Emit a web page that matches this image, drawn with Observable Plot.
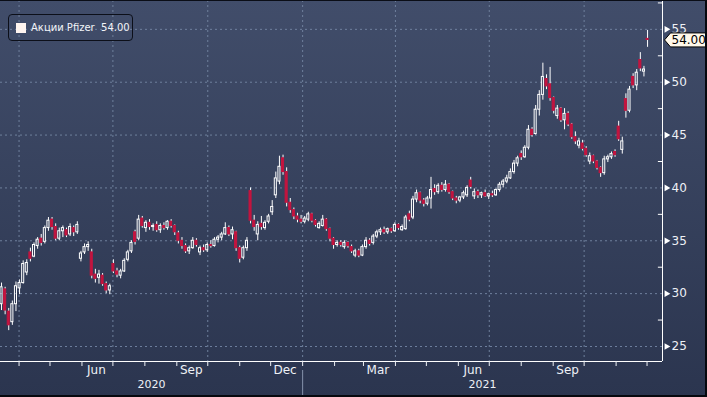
<!DOCTYPE html>
<html>
<head>
<meta charset="utf-8">
<script src="https://cdn.jsdelivr.net/npm/d3@7"></script>
<script src="https://cdn.jsdelivr.net/npm/@observablehq/plot@0.6"></script>
<style>
html,body{margin:0;padding:0;background:#2c3650;}
#wrap{position:relative;width:707px;height:397px;overflow:hidden;
  background:linear-gradient(to bottom,#414d6a 0%,#2b354f 100%);
  font-family:"DejaVu Sans",sans-serif;}
#wrap svg{position:absolute;left:0;top:0;}
#legend{position:absolute;left:8px;top:14px;width:125px;height:27px;box-sizing:border-box;
  border:1px solid #0c0f19;border-radius:4px;display:flex;align-items:center;
  color:#f2f4f8;font-size:10px;white-space:pre;}
#legend .sw{display:inline-block;width:10px;height:10px;background:#fff5f0;margin-left:7px;margin-right:5px;}
#frame{position:absolute;left:0;top:0;right:0;bottom:0;box-sizing:border-box;
  border-top:1px solid #0a0d16;border-right:2px solid #06080e;border-bottom:2px solid #06080e;pointer-events:none;}
</style>
</head>
<body>
<div id="wrap"><div id="frame"></div></div>
<script>
// ---- data ----
const seriesName = "Акции Pfizer";
const openV = [29.0,30.4,28.3,27.3,29.0,30.5,31.0,32.0,33.9,33.5,
 34.5,35.2,34.9,36.2,37.0,36.3,35.2,35.9,36.0,35.6,
 36.2,35.8,33.3,33.9,34.4,33.9,31.8,31.5,31.7,30.9,
 30.3,32.8,32.1,31.7,32.1,33.2,34.0,35.8,35.2,37.1,
 36.2,36.7,36.3,36.5,36.0,36.4,36.2,36.8,36.4,35.7,
 35.0,34.5,34.0,34.3,35.0,33.9,34.3,34.1,34.6,34.5,
 35.1,35.3,35.6,36.2,35.6,35.8,34.3,33.4,34.3,39.7,
 36.9,35.6,36.6,36.2,36.8,37.7,39.3,40.6,42.8,41.5,
 38.6,37.9,37.3,37.0,36.8,37.0,37.5,36.9,36.2,36.4,
 37.0,36.1,35.2,34.6,34.8,34.4,34.8,34.4,33.6,34.0,
 33.6,34.4,35.0,34.8,35.4,35.8,36.0,35.8,36.1,35.9,
 36.5,36.0,36.1,37.5,37.2,38.9,39.5,38.8,38.5,39.0,
 39.9,39.6,40.2,39.8,40.3,39.6,39.0,38.8,39.1,39.3,
 40.7,39.2,39.6,39.3,39.5,39.2,39.4,39.3,39.8,40.3,
 40.6,40.9,41.5,42.3,43.2,42.9,43.8,45.5,45.1,47.4,
 48.8,50.3,49.8,48.5,46.8,47.5,46.4,47.0,46.0,44.8,
 44.0,44.2,43.7,42.5,43.0,42.5,41.9,41.4,42.7,42.9,
 43.4,45.8,43.6,48.4,47.3,50.5,49.7,52.1,51.0,54.1];
const highV = [31.0,30.6,28.6,29.3,31.1,31.3,33.1,33.2,34.3,34.8,
 35.3,35.6,36.4,37.2,37.2,36.6,36.2,36.4,36.2,36.6,
 36.4,36.8,34.0,34.7,34.9,34.2,32.3,32.2,31.9,31.1,
 30.9,33.2,32.4,32.3,33.3,34.1,35.0,36.0,37.4,37.3,
 36.9,37.0,36.6,36.8,36.6,36.7,36.9,37.0,36.5,35.9,
 35.3,34.7,34.5,35.3,35.2,34.5,34.6,34.8,35.0,35.3,
 35.5,35.8,36.7,36.4,36.3,35.9,34.5,34.5,35.3,40.0,
 37.4,36.8,37.3,36.9,37.5,38.8,41.5,43.0,43.1,41.9,
 39.0,38.1,37.6,37.4,37.3,37.7,37.6,37.0,36.8,37.4,
 37.1,36.2,35.3,35.0,35.0,35.0,34.9,34.6,34.2,34.2,
 34.6,35.3,35.2,35.6,36.0,36.2,36.3,36.2,36.2,36.7,
 36.6,36.5,37.4,37.8,39.2,39.8,39.6,39.0,39.2,41.0,
 40.3,40.4,40.5,40.7,40.4,39.7,39.2,39.2,39.7,40.2,
 41.0,39.9,39.8,39.6,39.8,39.5,39.7,39.9,40.5,40.8,
 41.2,41.8,42.6,43.0,43.5,44.0,45.9,45.7,47.8,49.2,
 51.8,50.7,51.4,48.6,47.8,47.6,47.5,47.2,46.1,45.3,
 44.7,44.5,43.9,43.3,43.1,42.6,42.0,43.0,43.1,43.4,
 43.6,46.3,44.8,48.9,49.6,50.8,51.2,52.8,51.5,54.9];
const lowV = [28.4,28.0,26.5,27.0,28.3,29.9,30.9,31.7,33.0,33.4,
 34.2,34.5,34.7,35.9,36.0,35.0,35.0,35.3,35.3,35.4,
 35.4,35.6,33.0,33.7,34.0,31.4,31.0,30.9,30.7,30.0,
 29.9,31.9,31.5,31.4,32.0,33.0,33.8,34.6,35.0,36.2,
 35.8,36.0,35.9,35.8,35.7,36.0,36.0,36.2,35.5,34.7,
 34.2,33.8,33.7,34.2,34.4,33.6,33.9,33.9,34.3,34.4,
 34.8,35.0,35.5,35.4,35.1,34.0,32.9,33.2,34.0,36.6,
 35.9,35.0,36.0,36.0,36.6,37.4,39.0,40.3,41.2,38.2,
 37.6,37.0,36.7,36.6,36.6,36.8,36.7,36.3,36.1,36.3,
 35.9,34.9,34.2,34.4,34.4,34.2,34.3,33.8,33.4,33.4,
 33.5,34.2,34.5,34.6,35.2,35.5,35.6,35.6,35.7,35.8,
 36.0,35.9,36.0,36.8,37.0,38.6,38.5,38.2,38.3,38.0,
 39.3,39.4,39.6,39.6,39.4,38.8,38.5,38.6,38.9,39.1,
 39.9,38.9,39.0,39.0,39.1,38.9,39.1,39.2,39.6,40.0,
 40.4,40.8,41.3,42.0,42.6,42.8,43.6,44.8,45.0,46.8,
 48.3,49.3,48.2,47.0,46.5,46.2,45.5,45.8,44.6,44.1,
 43.7,43.5,42.9,42.2,42.3,41.7,41.0,41.2,42.4,42.7,
 42.9,44.4,43.2,46.6,47.1,49.4,49.2,51.0,50.5,53.3];
const closeV = [30.6,28.4,27.0,29.0,30.7,31.0,32.8,32.9,33.3,34.6,
 35.1,34.8,36.2,36.9,36.3,35.2,35.9,36.2,35.5,36.3,
 35.8,36.5,33.8,34.4,34.6,31.7,31.4,31.8,30.9,30.3,
 30.7,32.1,31.8,32.1,33.1,33.9,34.8,34.9,37.0,36.4,
 36.7,36.3,36.4,36.0,36.4,36.2,36.8,36.4,35.8,35.0,
 34.5,34.0,34.3,35.0,34.6,34.3,34.1,34.6,34.5,35.1,
 35.3,35.6,36.2,35.6,36.0,34.3,33.3,34.3,35.0,36.9,
 36.3,36.5,36.3,36.7,37.3,38.2,40.9,42.0,41.5,38.6,
 37.9,37.3,37.0,36.8,37.1,37.5,36.9,36.5,36.6,37.0,
 36.1,35.2,34.6,34.8,34.6,34.8,34.5,34.0,34.0,33.6,
 34.4,35.0,34.7,35.4,35.8,36.0,35.8,36.1,35.9,36.5,
 36.2,36.3,37.2,37.0,38.9,39.5,38.8,38.5,39.0,39.8,
 39.6,40.2,39.8,40.3,39.6,39.0,38.8,39.1,39.5,40.0,
 40.1,39.6,39.3,39.5,39.2,39.4,39.3,39.8,40.3,40.6,
 40.9,41.5,42.3,42.8,42.9,43.8,45.5,45.0,47.4,48.8,
 50.5,49.6,48.5,47.3,47.5,46.4,47.0,46.0,44.8,44.4,
 44.4,43.7,43.1,43.0,42.5,41.9,41.4,42.7,42.9,43.2,
 43.1,44.6,44.4,47.3,49.3,49.7,50.9,51.3,51.2,54.0];
// candles every 3.5 calendar days starting 15 Mar 2020
const firstCandle = Date.UTC(2020, 2, 15);
const candleStepDays = 3.5;

const yTicks = [25, 30, 35, 40, 45, 50, 55];
const yMinor = [27.5, 32.5, 37.5, 42.5, 47.5, 52.5, 57.5];
const monthLabelDates = ["2020-06-15","2020-09-15","2020-12-15","2021-03-15","2021-06-15","2021-09-15"];
const yearLabels = ["2020", "2021"];
const quarterStarts = ["2020-04-01","2020-07-01","2020-10-01","2021-01-01","2021-04-01","2021-07-01","2021-10-01"];

// ---- build table ----
const candles = closeV.map((c, i) => {
  const o = openV[i];
  return {
    date: new Date(firstCandle + i * candleStepDays * 864e5),
    open: o, high: highV[i], low: lowV[i], close: c,
    top: Math.max(o, c), bottom: Math.min(o, c)
  };
});
const up = candles.filter(d => d.close >= d.open);
const down = candles.filter(d => d.close < d.open);
const last = closeV[closeV.length - 1];

const xDomain = [new Date(Date.UTC(2020, 2, 14)), new Date(Date.UTC(2021, 11, 16))];
const yDomain = [23.58, 57.73];
const monthStarts = d3.utcMonths(new Date("2020-04-01"), new Date("2021-12-02"));
const qDates = quarterStarts.map(s => new Date(s));
const labelDates = monthLabelDates.map(s => new Date(s));
const yearBoundary = new Date("2021-01-01");
const yearMids = [
  new Date((+xDomain[0] + +yearBoundary) / 2),
  new Date((+yearBoundary + +xDomain[1]) / 2)
];

const RED = "#c4143f";
const GRID = "#6f809d";

const tagSymbol = {
  draw(ctx) {
    ctx.moveTo(2, 0);
    ctx.lineTo(8, -7);
    ctx.lineTo(43, -7);
    ctx.lineTo(43, 7);
    ctx.lineTo(8, 7);
    ctx.closePath();
  }
};

const chart = Plot.plot({
  width: 707, height: 397,
  marginTop: 0, marginRight: 45, marginBottom: 36, marginLeft: 0,
  x: {type: "utc", domain: xDomain, label: null},
  y: {domain: yDomain, label: null},
  style: {background: "transparent", color: "#eef1f6", fontFamily: "'DejaVu Sans', sans-serif", fontSize: "12px", overflow: "visible"},
  marks: [
    Plot.ruleY(yTicks, {stroke: GRID, strokeDasharray: "2,3"}),
    Plot.ruleX(qDates, {stroke: GRID, strokeDasharray: "2,3"}),
    Plot.ruleX(candles, {x: "date", y1: "high", y2: "top", stroke: "#fff"}),
    Plot.ruleX(candles, {x: "date", y1: "bottom", y2: "low", stroke: "#fff"}),
    Plot.rect(up, {x1: d => d3.utcHour.offset(d.date, -24), x2: d => d3.utcHour.offset(d.date, 24),
      y1: "open", y2: "close", fill: "none", stroke: "#fff", strokeWidth: 1}),
    Plot.rect(down, {x1: d => d3.utcHour.offset(d.date, -24), x2: d => d3.utcHour.offset(d.date, 24),
      y1: "open", y2: "close", fill: RED, stroke: RED, strokeWidth: 1}),
    Plot.ruleX([xDomain[1]], {stroke: "#fff"}),
    Plot.ruleY([yDomain[0]], {stroke: "#fff"}),
    Plot.ruleY(yMinor, {x1: d3.utcDay.offset(xDomain[1], -4), x2: xDomain[1], stroke: "#fff"}),
    Plot.dot(yTicks, {y: d => d, frameAnchor: "right", symbol: "triangle2", rotate: 90, r: 3.2, fill: "#fff", stroke: "none", dx: 4}),
    Plot.axisY({anchor: "right", ticks: yTicks, tickSize: 0, tickPadding: 9, fontSize: 12, label: null}),
    Plot.axisX({ticks: monthStarts, tickSize: 5, tickFormat: () => "", label: null}),
    Plot.axisX({ticks: labelDates, tickSize: 0, tickPadding: 4, tickFormat: d3.utcFormat("%b"), fontSize: 12, label: null}),
    Plot.axisX({ticks: yearMids, tickSize: 0, tickPadding: 19, tickFormat: (d, i) => yearLabels[i], fontSize: 11, label: null}),
    Plot.axisX({ticks: [yearBoundary], tickSize: 27, dy: 9, tickFormat: () => "", stroke: "#8593ab", label: null}),
    Plot.dot([last], {y: d => d, frameAnchor: "right", symbol: tagSymbol, fill: "#fff8ea", stroke: "#000", strokeWidth: 1}),
    Plot.text([last], {y: d => d, frameAnchor: "right", text: d => d.toFixed(2), dx: 9, textAnchor: "start", fill: "#000", fontSize: 12})
  ]
});

const wrap = document.getElementById("wrap");
wrap.insertBefore(chart, wrap.firstChild);
const legend = document.createElement("div");
legend.id = "legend";
legend.innerHTML = '<span class="sw"></span><span></span>';
legend.lastChild.textContent = seriesName + "  " + last.toFixed(2);
wrap.appendChild(legend);
</script>
</body>
</html>
